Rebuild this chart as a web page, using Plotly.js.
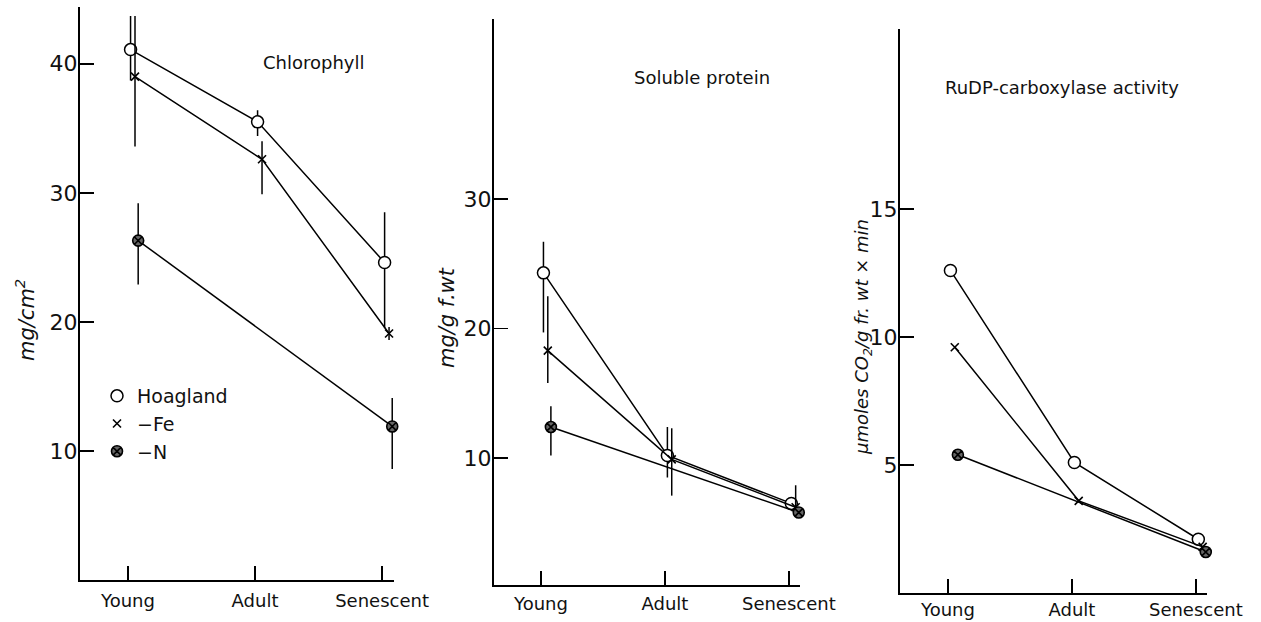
<!DOCTYPE html>
<html>
<head>
<meta charset="utf-8">
<script src="https://cdn.plot.ly/plotly-3.0.1.min.js"></script>
<style>html,body{margin:0;padding:0;background:#fff;}#chart{width:1261px;height:622px;}</style>
</head>
<body>
<div id="chart"></div>
<script>
// ---------- data ----------
const categories = ['Young', 'Adult', 'Senescent'];
const seriesNames = ['Hoagland', '\u2212Fe', '\u2212N'];

// Chlorophyll (mg/cm2)
const chlHoagland = [41.1, 35.5, 24.6];
const chlHoaglandErrUp = [2.6, 0.9, 3.9];
const chlHoaglandErrDown = [2.4, 1.1, 5.1];
const chlFe = [39.0, 32.6, 19.1];
const chlFeErrUp = [4.7, 1.4, 0.5];
const chlFeErrDown = [5.4, 2.7, 0.5];
const chlN = [26.3, null, 11.9];
const chlNErrUp = [2.9, null, 2.2];
const chlNErrDown = [3.4, null, 3.3];

// Soluble protein (mg/g f.wt)
const protHoagland = [24.3, 10.2, 6.5];
const protHoaglandErrUp = [2.4, 2.2, 0];
const protHoaglandErrDown = [4.6, 1.7, 0];
const protFe = [18.3, 9.9, 6.2];
const protFeErrUp = [4.2, 2.4, 1.7];
const protFeErrDown = [2.5, 2.8, 0.3];
const protN = [12.4, null, 5.8];
const protNErrUp = [1.6, null, 0];
const protNErrDown = [2.2, null, 0];

// RuDP-carboxylase activity (umoles CO2/g fr. wt x min)
const rudpHoagland = [12.6, 5.1, 2.1];
const rudpFe = [9.6, 3.6, 1.8];
const rudpN = [5.4, null, 1.6];

const chlTicks = [10, 20, 30, 40];
const protTicks = [10, 20, 30];
const rudpTicks = [5, 10, 15];

// ---------- styles ----------
const W = 1261, H = 622;
const dodge = [0.02, 0.055, 0.08];
const markers = [
  {symbol: 'circle', size: 12, color: '#ffffff', line: {color: '#000', width: 1.5}},
  {symbol: 'x-thin-open', size: 8, color: '#000', line: {color: '#000', width: 1.6}},
  {symbol: 'circle-x', size: 11, color: '#666', line: {color: '#000', width: 1.6}}
];
const catIdx = categories.map((c, i) => i);

function seriesTrace(vals, s, xa, ya, up, down) {
  const t = {
    type: 'scatter', mode: 'lines+markers',
    x: catIdx.map(i => i + dodge[s]), y: vals,
    xaxis: xa, yaxis: ya, connectgaps: true, showlegend: false,
    name: seriesNames[s], cliponaxis: false,
    line: {color: '#000', width: 1.5},
    marker: markers[s]
  };
  if (up) {
    t.error_y = {type: 'data', symmetric: false, array: up, arrayminus: down,
                 thickness: 1.5, width: 0, color: '#000'};
  }
  return t;
}

const traces = [
  seriesTrace(chlHoagland, 0, 'x', 'y', chlHoaglandErrUp, chlHoaglandErrDown),
  seriesTrace(chlFe, 1, 'x', 'y', chlFeErrUp, chlFeErrDown),
  seriesTrace(chlN, 2, 'x', 'y', chlNErrUp, chlNErrDown),
  seriesTrace(protHoagland, 0, 'x2', 'y2', protHoaglandErrUp, protHoaglandErrDown),
  seriesTrace(protFe, 1, 'x2', 'y2', protFeErrUp, protFeErrDown),
  seriesTrace(protN, 2, 'x2', 'y2', protNErrUp, protNErrDown),
  seriesTrace(rudpHoagland, 0, 'x3', 'y3'),
  seriesTrace(rudpFe, 1, 'x3', 'y3'),
  seriesTrace(rudpN, 2, 'x3', 'y3')
];
// legend entries (marker only, as in the figure)
seriesNames.forEach((n, s) => {
  traces.push({type: 'scatter', mode: 'markers', x: [null], y: [null], xaxis: 'x', yaxis: 'y',
               name: n, legendgroup: 'g' + s, showlegend: true, marker: markers[s]});
});

function xAxis(L, R, anchor, lo, hi, standoff) {
  return {domain: [L / W, R / W], anchor: anchor, range: [lo, hi],
          tickvals: catIdx, ticktext: categories,
          showline: true, linecolor: '#000', linewidth: 1.5,
          ticks: 'inside', ticklen: 14, tickwidth: 1.5, tickcolor: '#000',
          showgrid: false, zeroline: false, tickfont: {size: 18}, ticklabelstandoff: standoff};
}
function yAxis(T, B, anchor, lo, hi, tv) {
  return {domain: [(H - B) / H, (H - T) / H], anchor: anchor, range: [lo, hi],
          tickvals: tv, showline: true, linecolor: '#000', linewidth: 2,
          ticks: 'inside', ticklen: 14, tickwidth: 1.5, tickcolor: '#000',
          showgrid: false, zeroline: false, tickfont: {size: 22}, ticklabelstandoff: -4};
}

function ann(text, px, py, size, angle, italic) {
  return {text: text, xref: 'paper', yref: 'paper', x: px / W, y: (H - py) / H,
          xanchor: 'center', yanchor: 'middle', showarrow: false, textangle: angle || 0,
          font: {size: size, family: 'DejaVu Sans, sans-serif',
                 style: italic ? 'italic' : 'normal', color: '#111'}};
}

const layout = {
  width: W, height: H,
  margin: {l: 0, r: 0, t: 0, b: 0},
  paper_bgcolor: '#fff', plot_bgcolor: 'rgba(0,0,0,0)',
  font: {family: 'DejaVu Sans, sans-serif', color: '#111', size: 18},
  showlegend: true,
  legend: {x: 97 / W, y: (H - 377) / H, xanchor: 'left', yanchor: 'top',
           font: {size: 19}, bgcolor: 'rgba(0,0,0,0)', tracegroupgap: 0, itemwidth: 30},
  xaxis: xAxis(80, 393.5, 'y', -0.378, 2.09, 4),
  yaxis: yAxis(7, 580, 'x', 0, 44.4, chlTicks),
  xaxis2: xAxis(494, 800, 'y2', -0.379, 2.09, 2),
  yaxis2: yAxis(19, 585, 'x2', 0.2, 43.9, protTicks),
  xaxis3: xAxis(900, 1207, 'y3', -0.387, 2.09, 0),
  yaxis3: yAxis(29, 593, 'x3', 0, 22.03, rudpTicks),
  annotations: [
    ann('Chlorophyll', 314, 63, 18),
    ann('Soluble protein', 702, 78, 18),
    ann('RuDP-carboxylase activity', 1062, 87, 18),
    ann('mg/cm<sup>2</sup>', 25, 320, 21, -90, true),
    ann('mg/g f.wt', 447, 318, 21, -90, true),
    ann('\u03bcmoles CO<sub>2</sub>/g fr. wt \u00d7 min', 863, 337, 18, -90, true)
  ]
};

Plotly.newPlot('chart', traces, layout, {staticPlot: true, displayModeBar: false});
</script>
</body>
</html>
